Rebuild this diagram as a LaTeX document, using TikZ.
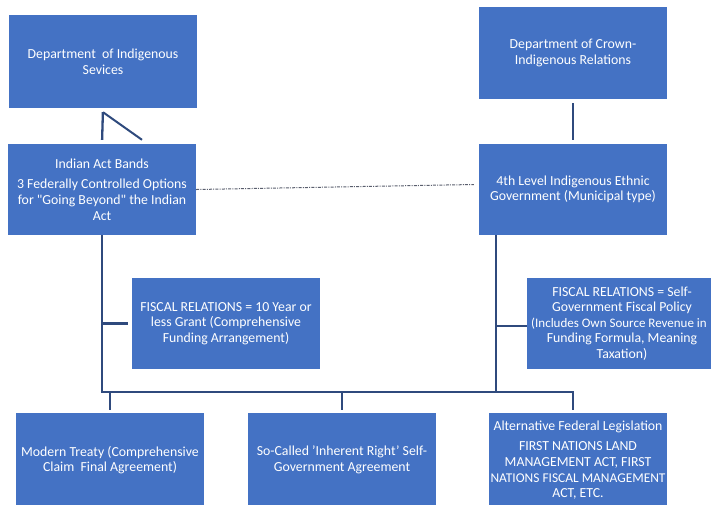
\documentclass[tikz,border=0pt]{standalone}
\usepackage{fontspec}
\setmainfont{Carlito}
\usetikzlibrary{calc}
\definecolor{boxblue}{RGB}{68,114,196}
\definecolor{linkblue}{RGB}{47,74,125}
\definecolor{dashgray}{RGB}{90,95,110}
\begin{document}
\begin{tikzpicture}[x=1pt,y=-1pt,
  box/.style={fill=boxblue, text=white, inner sep=0pt, align=center,
    font=\fontsize{13.8}{15.6}\selectfont},
  link/.style={draw=linkblue, line width=2.3pt},
  dashlink/.style={draw=dashgray, line width=1pt, dash pattern=on 3pt off 1.2pt on 1pt off 1.2pt}]
\useasboundingbox (0,0) rectangle (711,504);
\clip (0,0) rectangle (711,504);
\fill[white] (0,0) rectangle (711,504);
% boxes
\node[box, minimum width=188pt, minimum height=93pt] (b1) at (103,61.5)
  {Department \ of Indigenous\\Sevices};
\node[box, minimum width=188pt, minimum height=91pt] (b2) at (102,189.5)
  {Indian Act Bands\\[5pt]3 Federally Controlled Options\\for \textquotedbl Going Beyond\textquotedbl{} the Indian\\Act};
\node[box, minimum width=188pt, minimum height=92pt] (b3) at (573,53)
  {Department of Crown-\\Indigenous Relations};
\node[box, minimum width=188pt, minimum height=91pt] (b4) at (573,189.5)
  {4th Level Indigenous Ethnic\\Government (Municipal type)};
\node[box, minimum width=188pt, minimum height=91pt] (f1) at (226,323.5)
  {FISCAL RELATIONS = 10 Year or\\less Grant (Comprehensive\\Funding Arrangement)};
\node[box, minimum width=190pt, minimum height=91pt] (f2) at (622,323.5)
  {FISCAL RELATIONS = Self-\\Government Fiscal Policy\\\hspace*{-6pt}{\fontsize{13}{15.6}\selectfont(Includes Own Source Revenue in}\\Funding Formula, Meaning\\Taxation)};
\node[box, minimum width=188pt, minimum height=94pt] (m1) at (110,460)
  {Modern Treaty (Comprehensive\\Claim \ Final Agreement)};
\node[box, minimum width=188pt, minimum height=94pt] (m2) at (342,460)
  {So-Called 'Inherent Right' Self-\\Government Agreement};
\node[box, minimum width=178pt, minimum height=94pt] (m3) at (578,460)
  {Alternative Federal Legislation\\[5pt]FIRST NATIONS LAND\\MANAGEMENT ACT, FIRST\\{\fontsize{13.4}{15.6}\selectfont NATIONS FISCAL MANAGEMENT}\\ACT, ETC.};
% junction coordinates
\coordinate (bl) at (b2.south |- 0,392);
\coordinate (br) at (573,392);
\coordinate (r0) at (496,235);
\coordinate (r1) at (496,392);
\coordinate (lj) at (b2.south |- f1.west);
\coordinate (rj) at (496,326);
% connectors
\draw[link, shorten <=4pt, shorten >=4pt] (b1.south) -- (b2.north);
\draw[link, line width=2pt] ($(b1.south)+(0,4)$) -- ($(b2.north)+(40,-4)$);
\draw[link, shorten <=4pt, shorten >=4pt] (b3.south) -- (b4.north);
\draw[dashlink] (b2.east) -- ($(b4.west)+(-5,-5)$);
\draw[link] (b2.south) -- (bl);
\draw[link, shorten >=4pt] (lj) -- (f1.west);
\draw[link] (r0) -- (r1);
\draw[link] (rj) -- (f2.west |- rj);
\draw[link] ([xshift=-1.1pt]bl) -- ([xshift=1.1pt]br);
\draw[link, shorten >=3pt] (bl -| m1.north) -- (m1.north);
\draw[link, shorten >=3pt] (bl -| m2.north) -- (m2.north);
\draw[link, shorten >=3pt] (br) -- (br |- m3.north);
\end{tikzpicture}
\end{document}
